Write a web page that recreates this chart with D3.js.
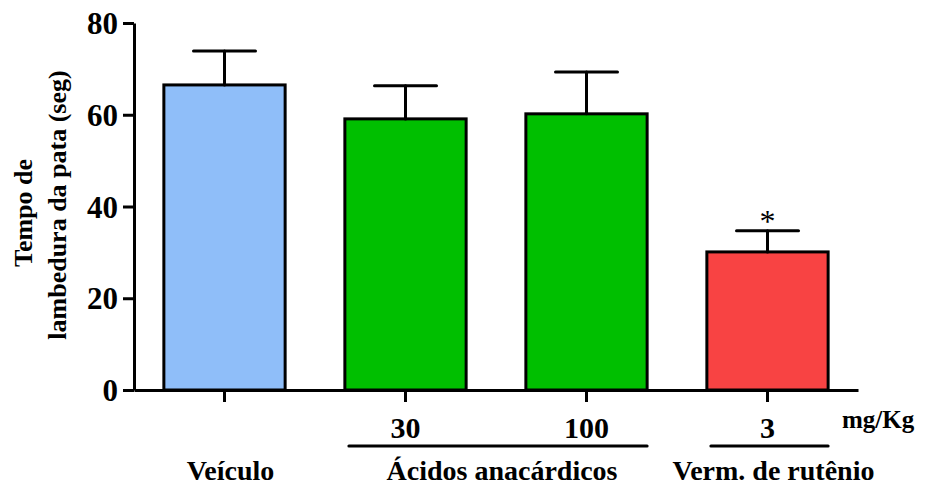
<!DOCTYPE html>
<html>
<head>
<meta charset="utf-8">
<script src="https://cdn.jsdelivr.net/npm/d3@7"></script>
<style>
  body { margin: 0; background: #fff; }
  text { font-family: "Liberation Serif", "Times New Roman", serif; font-weight: bold; fill: #000; }
</style>
</head>
<body>
<div id="container"></div>
<script>
let w = 927;
let h = 488;

// data
let categories = ["veiculo", "aa30", "aa100", "vr3"];
let doses = ["", "30", "100", "3"];
let means = [66.5, 59.1, 60.2, 30.1];
let sems = [7.4, 7.2, 9.1, 4.6];
let colors = ["#8fbef9", "#00bf00", "#00bf00", "#f84343"];
let marks = ["", "", "", "*"];
let groupNames = ["Veículo", "Ácidos anacárdicos", "Verm. de rutênio"];
let groupMembers = [["veiculo"], ["aa30", "aa100"], ["vr3"]];
let yTicks = [0, 20, 40, 60, 80];

let pLeft = 134, pRight = 858, pTop = 23, pBottom = 390;

let viz = d3.select("#container").append("svg")
    .attr("width", w)
    .attr("height", h);

let x = d3.scaleBand()
    .domain(categories)
    .range([pLeft, pRight])
    .paddingInner(0.33)
    .paddingOuter(0.165);

let y = d3.scaleLinear()
    .domain([0, 80])
    .range([pBottom, pTop]);

// bars
viz.selectAll(".bar").data(categories).enter()
    .append("rect")
    .attr("class", "bar")
    .attr("x", d => x(d))
    .attr("y", (d, i) => y(means[i]))
    .attr("width", x.bandwidth())
    .attr("height", (d, i) => y(0) - y(means[i]))
    .attr("fill", (d, i) => colors[i])
    .attr("stroke", "#000")
    .attr("stroke-width", 3);

// error bars (upper only)
let eb = viz.selectAll(".err").data(categories).enter()
    .append("g")
    .attr("class", "err")
    .attr("stroke", "#000")
    .attr("stroke-width", 3)
    .attr("stroke-linecap", "round");
eb.append("line")
    .attr("x1", d => x(d) + x.bandwidth() / 2)
    .attr("x2", d => x(d) + x.bandwidth() / 2)
    .attr("y1", (d, i) => y(means[i]))
    .attr("y2", (d, i) => y(means[i] + sems[i]));
eb.append("line")
    .attr("x1", d => x(d) + x.bandwidth() / 2 - 31)
    .attr("x2", d => x(d) + x.bandwidth() / 2 + 31)
    .attr("y1", (d, i) => y(means[i] + sems[i]))
    .attr("y2", (d, i) => y(means[i] + sems[i]));

// significance
viz.selectAll(".sig").data(categories).enter()
    .append("text")
    .attr("class", "sig")
    .attr("x", d => x(d) + x.bandwidth() / 2)
    .attr("y", (d, i) => y(means[i] + sems[i]) + 1)
    .attr("text-anchor", "middle")
    .style("font-weight", "normal")
    .attr("font-size", 32)
    .text((d, i) => marks[i]);

// y axis
let yAxis = viz.append("g")
    .attr("transform", "translate(" + pLeft + ",0)")
    .call(d3.axisLeft(y).tickValues(yTicks).tickSize(11).tickSizeOuter(0).tickPadding(5));
yAxis.select(".domain").attr("stroke", "#000").attr("stroke-width", 3);
yAxis.selectAll(".tick line").attr("stroke", "#000").attr("stroke-width", 3);
yAxis.selectAll(".tick text")
    .attr("font-size", 31)
    .attr("dy", "0.34em")
    .style("font-family", "'Liberation Serif', serif")
    .style("font-weight", "bold");

// x axis
let xAxis = viz.append("g")
    .attr("transform", "translate(0," + pBottom + ")")
    .call(d3.axisBottom(x).tickSize(12).tickSizeOuter(0).tickFormat(""));
xAxis.select(".domain").attr("stroke", "#000").attr("stroke-width", 3);
xAxis.selectAll(".tick line").attr("stroke", "#000").attr("stroke-width", 3);

// dose labels
viz.selectAll(".dose").data(categories).enter()
    .append("text")
    .attr("class", "dose")
    .attr("x", d => x(d) + x.bandwidth() / 2)
    .attr("y", 438)
    .attr("text-anchor", "middle")
    .attr("font-size", 30)
    .text((d, i) => doses[i]);

viz.append("text")
    .attr("x", 842)
    .attr("y", 428)
    .attr("font-size", 25)
    .text("mg/Kg");

// group underlines and names
groupNames.forEach(function(name, i){
  let m = groupMembers[i];
  let x0 = x(m[0]);
  let x1 = x(m[m.length - 1]) + x.bandwidth();
  if (doses[categories.indexOf(m[0])] != "") {
    viz.append("line")
      .attr("x1", x0 + 4).attr("x2", x1)
      .attr("y1", 446).attr("y2", 446)
      .attr("stroke", "#000")
      .attr("stroke-width", 3)
      .attr("stroke-linecap", "round");
  }
  viz.append("text")
    .attr("x", (x0 + x1) / 2 + 6)
    .attr("y", 480)
    .attr("text-anchor", "middle")
    .attr("font-size", 28)
    .text(name);
});

// y title
let title = viz.append("text")
    .attr("transform", "translate(0,205) rotate(-90)")
    .attr("text-anchor", "middle")
    .attr("font-size", 26);
title.append("tspan").attr("x", -8).attr("y", 32).text("Tempo de");
title.append("tspan").attr("x", 0).attr("y", 66).text("lambedura da pata (seg)");
</script>
</body>
</html>
